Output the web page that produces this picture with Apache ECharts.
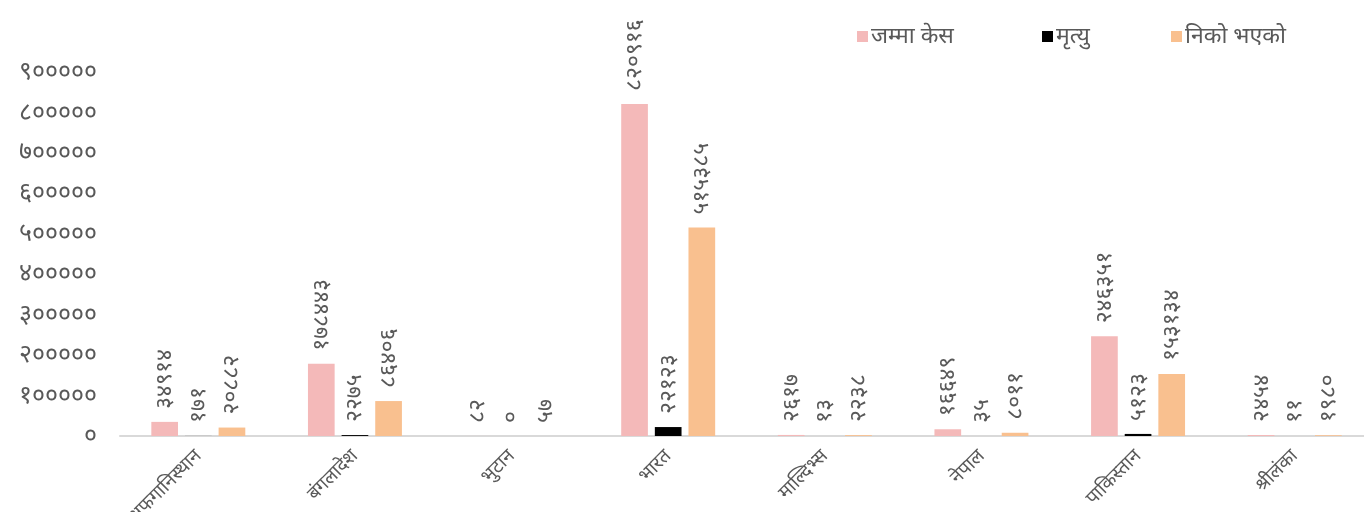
<!DOCTYPE html>
<html>
<head>
<meta charset="utf-8">
<script src="https://cdn.jsdelivr.net/npm/echarts@6/dist/echarts.min.js"></script>
<style>
html,body{margin:0;padding:0;background:#fff;}
#chart{width:1364px;height:512px;}
</style>
</head>
<body>
<div id="chart"></div>
<script>
const categories = ['अफगानिस्थान','बंगलादेश','भुटान','भारत','माल्दिभ्स','नेपाल','पाकिस्तान','श्रीलंका'];
const seriesNames = ['जम्मा केस','मृत्यु','निको भएको'];
const totalCases = [34914, 178443, 82, 820916, 2617, 16649, 246351, 2454];
const deaths = [171, 2275, 0, 22123, 13, 35, 5123, 11];
const recovered = [20882, 86406, 57, 515385, 2238, 8011, 153134, 1980];
const yTicks = [0, 100000, 200000, 300000, 400000, 500000, 600000, 700000, 800000, 900000];
const colors = ['#f4b9b9', '#000000', '#f9c08f'];

const devDigits = '०१२३४५६७८९';
function toDev(n){ return String(n).replace(/[0-9]/g, d => devDigits[+d]); }

const FONT = '"Noto Sans", "Noto Sans Devanagari", "DejaVu Sans", sans-serif';
const TEXT = '#595959';
const legendLeft = [852, 1037, 1166];

const chart = echarts.init(document.getElementById('chart'), null, {renderer:'canvas'});
function mkSeries(name, data, color){
  return {
    name: name, type: 'bar', data: data,
    itemStyle: {color: color},
    barGap: '26%', barCategoryGap: '40%',
    label: {
      show: true, position: 'top', rotate: 90, distance: 13,
      align: 'left', verticalAlign: 'middle',
      color: TEXT, fontSize: 23, fontFamily: FONT,
      formatter: p => toDev(p.value)
    }
  };
}
chart.setOption({
  animation: false,
  textStyle: {fontFamily: FONT},
  legend: seriesNames.map((n, i) => ({
    top: 20, left: legendLeft[i],
    itemWidth: 11, itemHeight: 11, itemGap: 0,
    icon: 'rect',
    textStyle: {color: TEXT, fontSize: 23, fontFamily: FONT, padding: [0,0,0,-2]},
    data: [n]
  })),
  grid: {left: 120, right: -9, top: 72, bottom: 76, containLabel: false, outerBoundsMode: 'none'},
  xAxis: {
    type: 'category', data: categories,
    axisLine: {lineStyle: {color: '#d9d9d9', width: 2}},
    axisTick: {show: false},
    axisLabel: {rotate: 45, color: TEXT, fontSize: 19, fontFamily: FONT, margin: 17, interval: 0}
  },
  yAxis: {
    type: 'value', min: 0, max: 900000, interval: 100000,
    splitLine: {show: false},
    axisLine: {show: false}, axisTick: {show: false},
    axisLabel: {color: TEXT, fontSize: 25, fontFamily: FONT, margin: 23, formatter: v => toDev(v)}
  },
  series: [
    mkSeries(seriesNames[0], totalCases, colors[0]),
    mkSeries(seriesNames[1], deaths, colors[1]),
    mkSeries(seriesNames[2], recovered, colors[2])
  ]
});
</script>
</body>
</html>
